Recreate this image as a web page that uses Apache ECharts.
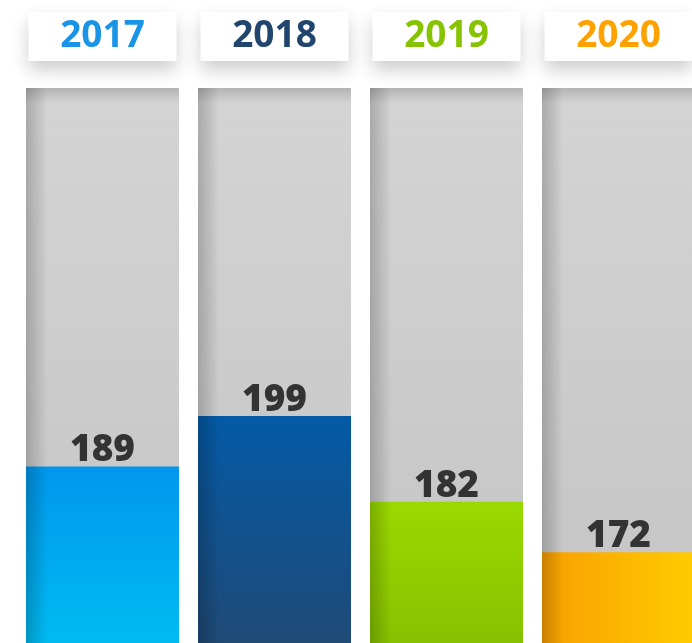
<!DOCTYPE html>
<html lang="en">
<head>
    <meta charset="UTF-8">
    <title>Yearly values</title>
    <script type="text/javascript" src="https://cdn.jsdelivr.net/npm/echarts@6/dist/echarts.min.js"></script>
    <style>
        body { margin: 0; background: #fff; overflow: hidden; }
    </style>
</head>
<body>
<!-- last column is cut off by the window, so the chart is a bit wider than the page -->
<div id="main" style="width:705px;height:643px;"></div>
<script type="text/javascript">
    const years = ['2017', '2018', '2019', '2020'];
    const values = [189, 199, 182, 172];
    const yearColors = ['#1a94e6', '#21456d', '#86c300', '#ffa200'];

    const yMin = 154;
    const yMax = 264;

    // bar fills, top -> bottom (orange runs left -> right)
    const fills = [
        new echarts.graphic.LinearGradient(0, 0, 0, 1, [{offset: 0, color: '#0097ec'}, {offset: 1, color: '#00bbf2'}]),
        new echarts.graphic.LinearGradient(0, 0, 0, 1, [{offset: 0, color: '#045aa6'}, {offset: 1, color: '#1f4a76'}]),
        new echarts.graphic.LinearGradient(0, 0, 0, 1, [{offset: 0, color: '#9ad900'}, {offset: 1, color: '#86c200'}]),
        new echarts.graphic.LinearGradient(0, 0, 1, 0, [{offset: 0, color: '#f8a000'}, {offset: 1, color: '#ffcb00'}])
    ];

    const myChart = echarts.init(document.getElementById('main'));

    const option = {
        backgroundColor: '#fff',
        animation: false,
        grid: {
            left: 16.5,
            top: 88,
            right: 0.5,
            bottom: 0
        },
        xAxis: {
            type: 'category',
            position: 'top',
            data: years,
            axisLine: {show: false},
            axisTick: {show: false},
            axisLabel: {
                margin: 27,
                width: 148,
                height: 49,
                lineHeight: 49,
                align: 'center',
                fontFamily: 'Open Sans',
                fontWeight: 'bold',
                fontSize: 37,
                color: (v, i) => yearColors[i],
                backgroundColor: '#fff',
                shadowColor: 'rgba(0,0,0,0.2)',
                shadowBlur: 18,
                shadowOffsetY: 9
            }
        },
        yAxis: {
            type: 'value',
            min: yMin,
            max: yMax,
            show: false
        },
        series: [{
            // grey track
            type: 'bar',
            silent: true,
            barWidth: 153,
            barGap: '-100%',
            data: years.map(() => yMax),
            itemStyle: {
                color: new echarts.graphic.LinearGradient(0, 0, 0, 1, [
                    {offset: 0, color: '#b4b4b4'},
                    {offset: 0.028, color: '#d4d4d4'},
                    {offset: 1, color: '#c4c4c4'}
                ])
            }
        }, {
            type: 'bar',
            barWidth: 153,
            barGap: '-100%',
            data: values.map((v, i) => ({value: v, itemStyle: {color: fills[i]}})),
            label: {
                show: true,
                position: 'top',
                distance: -3,
                fontFamily: 'Open Sans',
                fontWeight: 800,
                fontSize: 37,
                color: '#333'
            }
        }, {
            // left edge shading
            type: 'bar',
            silent: true,
            barWidth: 153,
            barGap: '-100%',
            data: years.map(() => yMax),
            itemStyle: {
                color: new echarts.graphic.LinearGradient(0, 0, 1, 0, [
                    {offset: 0, color: 'rgba(0,0,0,0.2)'},
                    {offset: 0.1, color: 'rgba(0,0,0,0.06)'},
                    {offset: 0.14, color: 'rgba(0,0,0,0)'},
                    {offset: 1, color: 'rgba(0,0,0,0)'}
                ])
            }
        }]
    };

    myChart.setOption(option);
</script>
</body>
</html>
